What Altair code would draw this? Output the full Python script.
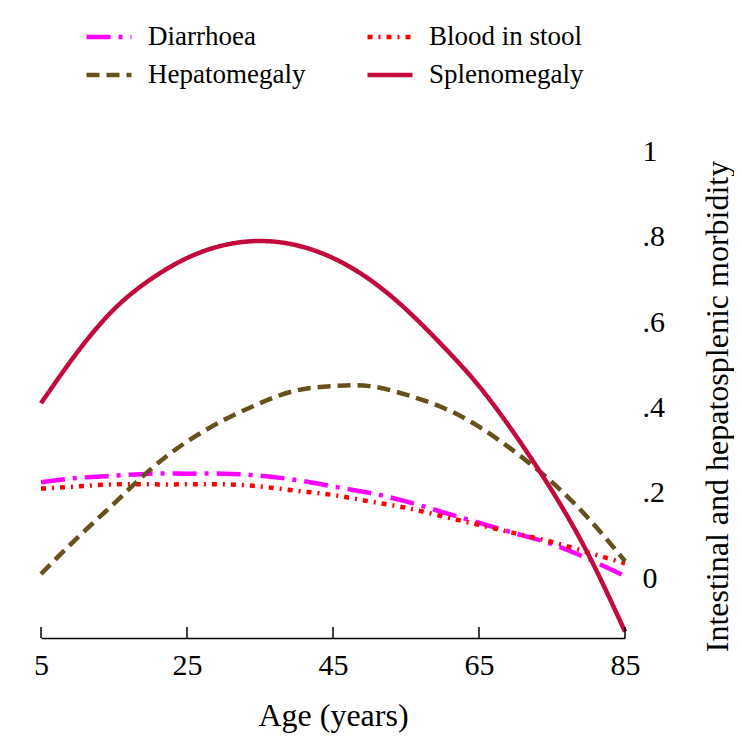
import altair as alt
import pandas as pd

ages = [5, 10, 15, 20, 25, 30, 35, 40, 45, 50, 55, 60, 65, 70, 75, 80, 85]
diarrhoea = [0.225, 0.235, 0.24, 0.245, 0.245, 0.245, 0.24, 0.23, 0.215, 0.20, 0.18, 0.155, 0.13, 0.105, 0.08, 0.045, 0.005]
blood = [0.21, 0.215, 0.22, 0.22, 0.22, 0.22, 0.215, 0.205, 0.195, 0.18, 0.165, 0.145, 0.125, 0.105, 0.085, 0.06, 0.035]
hepato = [0.01, 0.095, 0.175, 0.255, 0.32, 0.37, 0.41, 0.44, 0.45, 0.45, 0.43, 0.40, 0.355, 0.295, 0.225, 0.14, 0.04]
spleno = [0.41, 0.53, 0.63, 0.70, 0.75, 0.78, 0.79, 0.78, 0.75, 0.70, 0.63, 0.545, 0.45, 0.335, 0.205, 0.055, -0.125]

conditions = ["Diarrhoea", "Blood in stool", "Hepatomegaly", "Splenomegaly"]
legend_order = ["Diarrhoea", "Hepatomegaly", "Blood in stool", "Splenomegaly"]
colors = {"Diarrhoea": "#FF00FF", "Blood in stool": "#FF0000",
          "Hepatomegaly": "#66501C", "Splenomegaly": "#C20A3C"}
dashes = {"Diarrhoea": [24, 8, 4, 8], "Blood in stool": [5, 6, 2, 6],
          "Hepatomegaly": [13, 7], "Splenomegaly": [1, 0]}
x_ticks = [5, 25, 45, 65, 85]
y_ticks = [0, 0.2, 0.4, 0.6, 0.8, 1.0]

series = {"Diarrhoea": diarrhoea, "Blood in stool": blood,
          "Hepatomegaly": hepato, "Splenomegaly": spleno}
rows = []
for name in conditions:
    for a, v in zip(ages, series[name]):
        rows.append({"Age": a, "Value": v, "Condition": name})
df = pd.DataFrame(rows)

W, H = 584, 508
FONT = "Liberation Serif"

legend = alt.Legend(
    title=None, orient="none", legendX=43, legendY=-118, columns=2,
    symbolType="stroke", symbolSize=2025, symbolStrokeWidth=4.5,
    labelFont=FONT, labelFontSize=27, labelColor="black", labelOffset=14,
    rowPadding=-9, columnPadding=52, padding=0, symbolLimit=0,
)

x_scale = alt.Scale(domain=[5, 85], nice=False, zero=False)
y_scale = alt.Scale(domain=[-0.14, 1.05], nice=False, zero=False)

lines = alt.Chart(df).mark_line(strokeWidth=4.5, interpolate="natural").encode(
    x=alt.X("Age:Q", scale=x_scale,
            axis=alt.Axis(values=x_ticks, title="Age (years)", ticks=False,
                          grid=False, domainColor="black", domainWidth=1.5,
                          labelFont=FONT, labelFontSize=30, labelColor="black",
                          labelPadding=12, titleFont=FONT, titleFontSize=32,
                          titleFontWeight="normal", titleColor="black",
                          titlePadding=20, labelFlush=False)),
    y=alt.Y("Value:Q", scale=y_scale,
            axis=alt.Axis(orient="right", values=y_ticks, ticks=False, domain=False,
                          grid=False,
                          labelExpr="datum.value == 0 ? '0' : datum.value == 1 ? '1' : replace(format(datum.value, '.1f'), '0.', '.')",
                          labelFont=FONT, labelFontSize=30, labelColor="black",
                          labelAlign="left", labelPadding=17,
                          title="Intestinal and hepatosplenic morbidity",
                          titleAngle=270, titleFont=FONT, titleFontSize=32,
                          titleFontWeight="normal", titleColor="black",
                          titleAlign="center", titleBaseline="middle",
                          titleX=92, titleY=276)),
    color=alt.Color("Condition:N",
                    scale=alt.Scale(domain=legend_order, range=[colors[c] for c in legend_order]),
                    legend=legend, sort=legend_order),
    strokeDash=alt.StrokeDash("Condition:N",
                              scale=alt.Scale(domain=legend_order, range=[dashes[c] for c in legend_order]),
                              legend=legend, sort=legend_order),
    order=alt.Order("Age:Q"),
)

tick_df = pd.DataFrame({"t": x_ticks})
ticks = alt.Chart(tick_df).mark_rule(color="black", strokeWidth=1.5).encode(
    x=alt.X("t:Q", scale=x_scale),
    y=alt.value(H),
    y2=alt.value(H - 11),
)

chart = alt.layer(lines, ticks).properties(
    width=W, height=H,
    padding={"left": 33, "top": 122, "right": 109, "bottom": 100},
    autosize="none",
    background="white",
).configure_view(stroke="transparent")

chart.save("out.html", embed_options={"renderer": "svg", "actions": False})
